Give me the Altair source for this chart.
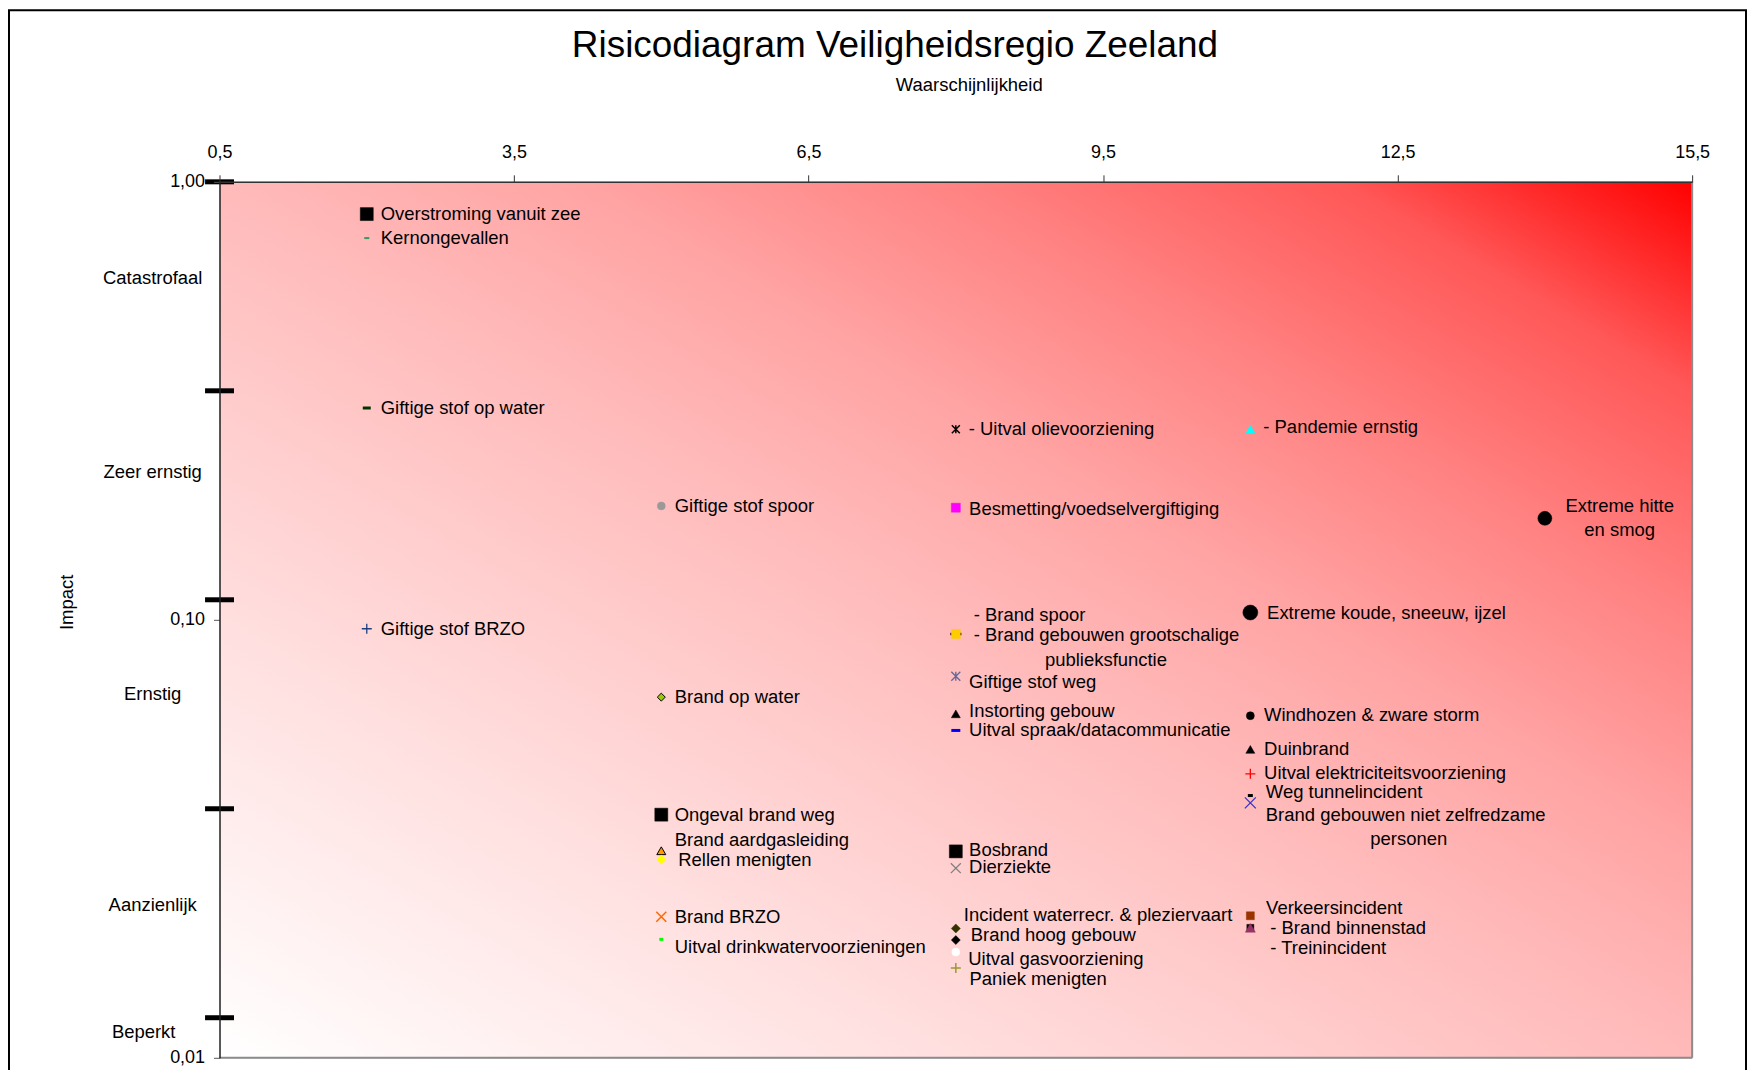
import altair as alt
import pandas as pd

# ---------------- data ----------------
x_axis_values = [0.5, 3.5, 6.5, 9.5, 12.5, 15.5]
y_axis_values = [0.01, 0.10, 1.00]
class_boundaries = [1.0, 1 / 3, 1 / 9, 1 / 27, 1 / 81]
impact_classes = ["Catastrofaal", "Zeer ernstig", "Ernstig", "Aanzienlijk", "Beperkt"]
impact_class_pos = [0.602, 0.2174, 0.0678, 0.0223, 0.01146]

risk_names = [
    "Overstroming vanuit zee", "Kernongevallen", "Giftige stof op water", "Giftige stof BRZO",
    "Giftige stof spoor", "Brand op water", "Ongeval brand weg", "Brand aardgasleiding",
    "Rellen menigten", "Brand BRZO", "Uitval drinkwatervoorzieningen",
    "Uitval olievoorziening", "Besmetting/voedselvergiftiging",
    "Brand gebouwen grootschalige publieksfunctie", "Brand spoor", "Giftige stof weg",
    "Instorting gebouw", "Uitval spraak/datacommunicatie", "Bosbrand", "Dierziekte",
    "Incident waterrecr. & pleziervaart", "Brand hoog gebouw", "Uitval gasvoorziening",
    "Paniek menigten",
    "Pandemie ernstig", "Extreme koude, sneeuw, ijzel", "Windhozen & zware storm", "Duinbrand",
    "Uitval elektriciteitsvoorziening", "Weg tunnelincident",
    "Brand gebouwen niet zelfredzame personen", "Verkeersincident", "Treinincident",
    "Brand binnenstad",
    "Extreme hitte en smog",
]
waarschijnlijkheid = [2, 2, 2, 2,
                      5, 5, 5, 5, 5, 5, 5,
                      8, 8, 8, 8, 8, 8, 8, 8, 8, 8, 8, 8, 8,
                      11, 11, 11, 11, 11, 11, 11, 11, 11, 11,
                      14]
impact = [0.844, 0.744, 0.3045, 0.0954,
          0.182, 0.0666, 0.0359, 0.0297, 0.02835, 0.0210, 0.01864,
          0.2723, 0.1803, 0.0928, 0.0928, 0.0743, 0.0610, 0.0559, 0.0296, 0.0271,
          0.01974, 0.01857, 0.01744, 0.01603,
          0.2723, 0.1039, 0.0604, 0.0506, 0.0445, 0.0397, 0.0382, 0.0211, 0.0198, 0.0198,
          0.1705]

# ---------------- styles / layout ----------------
PLUS = "M-1,0L1,0M0,-1L0,1"
XS = "M-1,-1L1,1M-1,1L1,-1"
STAR = "M-1,-1L1,1M-1,1L1,-1M0,-1L0,1"
DASH = "M-1,0L1,0"
NONE = "transparent"

marker_style = {
    "Overstroming vanuit zee": ("square", "black", "black", 13, 0.5),
    "Kernongevallen": (DASH, NONE, "#339966", 5, 2),
    "Giftige stof op water": (DASH, NONE, "#003300", 8, 3),
    "Giftige stof BRZO": (PLUS, NONE, "#1F3F7F", 10, 1.3),
    "Giftige stof spoor": ("circle", "#999999", "#999999", 8, 0.5),
    "Brand op water": ("diamond", "#99CC00", "black", 8, 1),
    "Ongeval brand weg": ("square", "black", "black", 13, 0.5),
    "Brand aardgasleiding": ("triangle-up", "#FF9900", "black", 9, 1),
    "Rellen menigten": ("diamond", "#FFFF00", "#FFFF00", 9, 0.5),
    "Brand BRZO": (XS, NONE, "#FF6600", 10, 1.5),
    "Uitval drinkwatervoorzieningen": (DASH, NONE, "#00FF00", 4, 3),
    "Uitval olievoorziening": (STAR, NONE, "black", 8, 1.5),
    "Besmetting/voedselvergiftiging": ("square", "#FF00FF", "#FF00FF", 9, 0.5),
    "Brand gebouwen grootschalige publieksfunctie": (DASH, NONE, "black", 11, 2.5),
    "Brand spoor": ("square", "#FFCC00", "#FFCC00", 9, 0.5),
    "Giftige stof weg": (STAR, NONE, "#666699", 9, 1.3),
    "Instorting gebouw": ("triangle-up", "black", "black", 9, 0.5),
    "Uitval spraak/datacommunicatie": (DASH, NONE, "#0000FF", 9, 3),
    "Bosbrand": ("square", "black", "black", 13, 0.5),
    "Dierziekte": (XS, NONE, "#808080", 10, 1.3),
    "Incident waterrecr. & pleziervaart": ("diamond", "#333300", "#333300", 9, 0.5),
    "Brand hoog gebouw": ("diamond", "black", "black", 9, 0.5),
    "Uitval gasvoorziening": ("circle", "white", "white", 8, 0.5),
    "Paniek menigten": (PLUS, NONE, "#999933", 10, 1.5),
    "Pandemie ernstig": ("triangle-up", "#00FFFF", "#00FFFF", 9, 0.5),
    "Extreme koude, sneeuw, ijzel": ("circle", "black", "black", 15, 0.5),
    "Windhozen & zware storm": ("circle", "black", "black", 8, 0.5),
    "Duinbrand": ("triangle-up", "black", "black", 9, 0.5),
    "Uitval elektriciteitsvoorziening": (PLUS, NONE, "#FF0000", 10, 1.3),
    "Weg tunnelincident": (DASH, NONE, "black", 5, 3),
    "Brand gebouwen niet zelfredzame personen": (XS, NONE, "#3333CC", 11, 1.3),
    "Verkeersincident": ("square", "#993300", "#993300", 8, 0.5),
    "Treinincident": ("square", "black", "black", 7, 0.5),
    "Brand binnenstad": ("triangle-up", "#993366", "#993366", 10, 0.5),
    "Extreme hitte en smog": ("circle", "black", "black", 14, 0.5),
}

# (risk, text line, dx px, dy px, align)
label_layout = [
    ("Overstroming vanuit zee", "Overstroming vanuit zee", 14, 0, "left"),
    ("Kernongevallen", "Kernongevallen", 14, 0, "left"),
    ("Giftige stof op water", "Giftige stof op water", 14, 0, "left"),
    ("Giftige stof BRZO", "Giftige stof BRZO", 14, 0, "left"),
    ("Giftige stof spoor", "Giftige stof spoor", 13.5, 0, "left"),
    ("Brand op water", "Brand op water", 13.5, 0, "left"),
    ("Ongeval brand weg", "Ongeval brand weg", 13.5, 0, "left"),
    ("Brand aardgasleiding", "Brand aardgasleiding", 13.5, -10.7, "left"),
    ("Rellen menigten", "Rellen menigten", 17, 0.7, "left"),
    ("Brand BRZO", "Brand BRZO", 13.5, 0, "left"),
    ("Uitval drinkwatervoorzieningen", "Uitval drinkwatervoorzieningen", 13.5, 7.4, "left"),
    ("Uitval olievoorziening", "- Uitval olievoorziening", 13, 0, "left"),
    ("Besmetting/voedselvergiftiging", "Besmetting/voedselvergiftiging", 13.3, 1.3, "left"),
    ("Brand spoor", "- Brand spoor", 18, -18.6, "left"),
    ("Brand gebouwen grootschalige publieksfunctie", "- Brand gebouwen grootschalige", 18, 1.4, "left"),
    ("Brand gebouwen grootschalige publieksfunctie", "publieksfunctie", 150.5, 26.4, "center"),
    ("Giftige stof weg", "Giftige stof weg", 13.3, 6, "left"),
    ("Instorting gebouw", "Instorting gebouw", 13.3, -2.6, "left"),
    ("Uitval spraak/datacommunicatie", "Uitval spraak/datacommunicatie", 13.3, 0, "left"),
    ("Bosbrand", "Bosbrand", 13.3, -1.3, "left"),
    ("Dierziekte", "Dierziekte", 13.3, -1, "left"),
    ("Incident waterrecr. & pleziervaart", "Incident waterrecr. & pleziervaart", 8, -13.6, "left"),
    ("Brand hoog gebouw", "Brand hoog gebouw", 15, -5, "left"),
    ("Uitval gasvoorziening", "Uitval gasvoorziening", 12.5, 7, "left"),
    ("Paniek menigten", "Paniek menigten", 13.7, 11, "left"),
    ("Pandemie ernstig", "- Pandemie ernstig", 13, -2, "left"),
    ("Extreme koude, sneeuw, ijzel", "Extreme koude, sneeuw, ijzel", 16.8, 0, "left"),
    ("Windhozen & zware storm", "Windhozen & zware storm", 13.8, -0.7, "left"),
    ("Duinbrand", "Duinbrand", 13.8, -0.7, "left"),
    ("Uitval elektriciteitsvoorziening", "Uitval elektriciteitsvoorziening", 13.8, -0.6, "left"),
    ("Weg tunnelincident", "Weg tunnelincident", 15.5, -3.3, "left"),
    ("Brand gebouwen niet zelfredzame personen", "Brand gebouwen niet zelfredzame", 15.5, 11.7, "left"),
    ("Brand gebouwen niet zelfredzame personen", "personen", 158.8, 36, "center"),
    ("Verkeersincident", "Verkeersincident", 15.8, -7.4, "left"),
    ("Brand binnenstad", "- Brand binnenstad", 20, -0.3, "left"),
    ("Treinincident", "- Treinincident", 20, 20.3, "left"),
    ("Extreme hitte en smog", "Extreme hitte", 75, -12.6, "center"),
    ("Extreme hitte en smog", "en smog", 75, 11.7, "center"),
]

W, H = 1476, 878
X_MIN, X_MAX = 0.5, 15.5
Y_MIN, Y_MAX = 0.01, 1.0
PX_PER_X = W / (X_MAX - X_MIN)
PX_PER_DEC = H / 2.0
FONT = "Liberation Sans"
FS = 18.5

# ---------------- tables ----------------
pts = pd.DataFrame({"naam": risk_names, "x": waarschijnlijkheid, "y": impact})
pts["shape"] = [marker_style[n][0] for n in risk_names]
pts["fill"] = [marker_style[n][1] for n in risk_names]
pts["stroke"] = [marker_style[n][2] for n in risk_names]
pts["size"] = [marker_style[n][3] ** 2 for n in risk_names]
pts["sw"] = [marker_style[n][4] for n in risk_names]

pos = {n: (x, y) for n, x, y in zip(risk_names, waarschijnlijkheid, impact)}
rows = []
for name, text, dx, dy, align in label_layout:
    px, py = pos[name]
    rows.append({"text": text, "lx": px + dx / PX_PER_X,
                 "ly": py * 10 ** (-dy / PX_PER_DEC), "align": align})
labels = pd.DataFrame(rows)

cls = pd.DataFrame({"text": impact_classes, "ly": impact_class_pos})
cls["lx"] = [X_MIN - 67 / PX_PER_X] * 4 + [X_MIN - 76 / PX_PER_X]

bounds = pd.DataFrame({"y": class_boundaries, "x": [X_MIN] * len(class_boundaries)})
area = pd.DataFrame({"x0": [X_MIN], "x1": [X_MAX], "y0": [Y_MIN], "y1": [Y_MAX]})

xs = alt.Scale(domain=[X_MIN, X_MAX], nice=False, zero=False)
ys = alt.Scale(type="log", domain=[Y_MIN, Y_MAX], nice=False)

x_axis = alt.Axis(orient="top", values=x_axis_values,
                  labelExpr="replace(format(datum.value, '.1f'), '.', ',')",
                  grid=False, tickSize=7, tickColor="#333333", tickWidth=1,
                  domainColor="#333333", domainWidth=1.5,
                  labelFontSize=18, labelPadding=17, labelBaseline="alphabetic",
                  labelFlush=False, labelOverlap=False, labelColor="black",
                  title="Waarschijnlijkheid", titleFontSize=18.5, titleFontWeight="normal",
                  titleX=751, titleY=-92, titleBaseline="alphabetic", titleAlign="center",
                  titleColor="black", zindex=1)
y_axis = alt.Axis(values=y_axis_values,
                  labelExpr="replace(format(datum.value, '.2f'), '.', ',')",
                  grid=False, tickSize=6, tickColor="#555555", tickWidth=1,
                  domainColor="#222222", domainWidth=1.5,
                  labelFontSize=18, labelPadding=9, labelFlush=False, labelOverlap=False,
                  labelColor="black",
                  title="Impact", titleAngle=270, titleX=-153, titleY=421,
                  titleFontSize=18.5, titleFontWeight="normal", titleAlign="center",
                  titleBaseline="middle", titleColor="black", zindex=1)


def X(field):
    return alt.X(field, scale=xs, axis=x_axis)


def Y(field):
    return alt.Y(field, scale=ys, axis=y_axis)


gradient = {
    "gradient": "linear", "x1": 0, "y1": 1, "x2": 1, "y2": 0,
    "stops": [
        {"offset": 0.0, "color": "#FFFFFF"},
        {"offset": 0.25, "color": "#FFDFDF"},
        {"offset": 0.5, "color": "#FFBABA"},
        {"offset": 0.62, "color": "#FFA4A4"},
        {"offset": 0.75, "color": "#FF8282"},
        {"offset": 0.88, "color": "#FF5858"},
        {"offset": 1.0, "color": "#FF0000"},
    ],
}

bg = alt.Chart(area).mark_rect(fill=gradient).encode(
    x=X("x0:Q"), x2="x1:Q", y=Y("y0:Q"), y2="y1:Q")

edge_right = alt.Chart(area).mark_rule(color="#8c8c8c", strokeWidth=2).encode(
    x=X("x1:Q"), y=Y("y0:Q"), y2="y1:Q")
edge_bottom = alt.Chart(area).mark_rule(color="#8c8c8c", strokeWidth=2).encode(
    x=X("x0:Q"), x2="x1:Q", y=Y("y0:Q"))

thick = alt.Chart(bounds).mark_tick(orient="horizontal", size=29, thickness=5,
                                    color="black", opacity=1).encode(
    x=X("x:Q"), y=Y("y:Q"))

points = alt.Chart(pts).mark_point(opacity=1, fillOpacity=1, strokeOpacity=1).encode(
    x=X("x:Q"),
    y=Y("y:Q"),
    shape=alt.Shape("shape:N", scale=None, legend=None),
    fill=alt.Fill("fill:N", scale=None, legend=None),
    stroke=alt.Stroke("stroke:N", scale=None, legend=None),
    size=alt.Size("size:Q", scale=None, legend=None),
    strokeWidth=alt.StrokeWidth("sw:Q", scale=None, legend=None),
)


def text_layer(df, align):
    return alt.Chart(df).mark_text(align=align, baseline="middle", fontSize=FS,
                                   font=FONT, color="black").encode(
        x=X("lx:Q"), y=Y("ly:Q"), text="text:N")


lab_left = text_layer(labels[labels["align"] == "left"], "left")
lab_center = text_layer(labels[labels["align"] == "center"], "center")
cls_text = text_layer(cls, "center")

frame = alt.Chart(alt.Data(values=[{}])).mark_rect(
    fill="transparent", stroke="black", strokeWidth=2).encode(
    x=alt.value(-211), x2=alt.value(1530), y=alt.value(-172), y2=alt.value(930))

chart = alt.layer(bg, edge_right, edge_bottom, thick, points, lab_left, lab_center,
                  cls_text, frame).properties(
    width=W, height=H,
    title=alt.TitleParams(text="Risicodiagram Veiligheidsregio Zeeland", fontSize=37,
                          fontWeight="normal", font=FONT, color="black",
                          anchor="middle", frame="group", dx=-61, offset=0,
                          baseline="alphabetic", dy=85),
    autosize=alt.AutoSizeParams(type="none"),
    padding={"left": 212, "top": 173, "right": 56, "bottom": 12},
).configure_view(stroke=None).configure(font=FONT)

chart.save("out.html", embed_options={"renderer": "svg", "actions": False})
